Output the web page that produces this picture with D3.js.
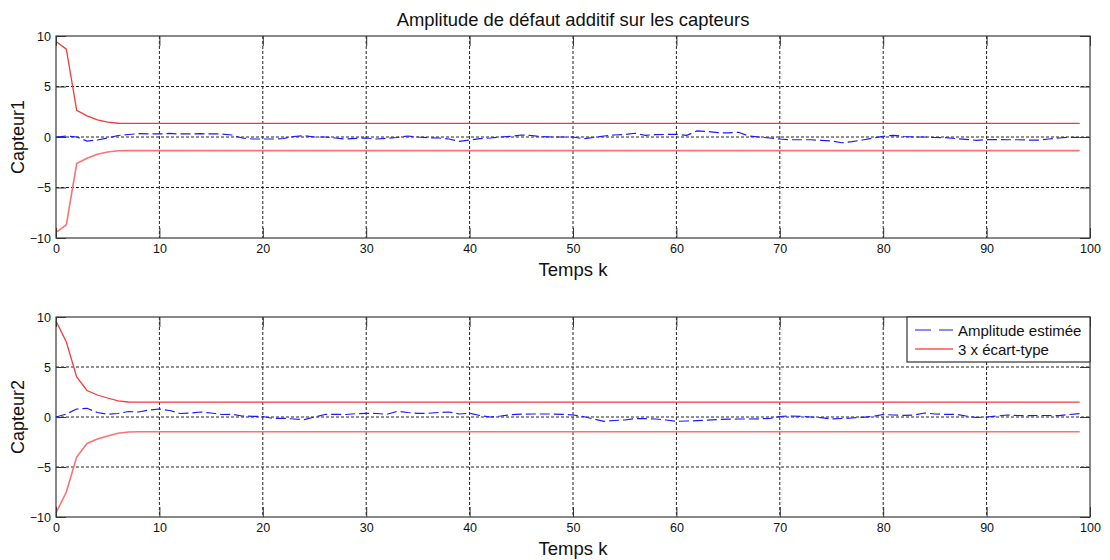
<!DOCTYPE html>
<html>
<head>
<meta charset="utf-8">
<script src="https://cdn.jsdelivr.net/npm/d3@7/dist/d3.min.js"></script>
<style>
    body { margin: 0; background: #fff; }
    text { font-family: "Liberation Sans", Arial, sans-serif; fill: #111; }
</style>
</head>
<body>
<div id="chart"></div>
<script>
// Tick labels
var xTicks = [0, 10, 20, 30, 40, 50, 60, 70, 80, 90, 100];
var yTicks = [-10, -5, 0, 5, 10];

// Estimated amplitude, sensor 1 (k = 0..99)
var amp1 = [0, 0.1, 0, -0.4, -0.3, -0.1, 0.15, 0.25, 0.33, 0.3,
    0.3, 0.35, 0.3, 0.3, 0.33, 0.3, 0.3, 0.2, -0.1, -0.2,
    -0.2, -0.2, -0.15, 0.05, 0.12, 0, 0, -0.1, -0.2, -0.13,
    -0.1, -0.2, -0.13, -0.05, 0.1, 0, -0.07, -0.1, -0.2, -0.43,
    -0.3, -0.17, -0.1, 0, 0.07, 0.2, 0.15, 0.03, 0, 0,
    0, -0.17, -0.05, 0.1, 0.2, 0.25, 0.37, 0.17, 0.23, 0.25,
    0.27, 0.17, 0.6, 0.55, 0.43, 0.4, 0.47, 0.1, 0, -0.1,
    -0.2, -0.27, -0.27, -0.27, -0.33, -0.4, -0.57, -0.45, -0.3, -0.1,
    0.07, 0.17, 0.05, 0, 0, -0.05, -0.07, -0.15, -0.23, -0.33,
    -0.25, -0.25, -0.27, -0.27, -0.3, -0.3, -0.2, -0.1, -0.03, -0.05];

// Estimated amplitude, sensor 2
var amp2 = [0, 0.3, 0.8, 0.87, 0.45, 0.27, 0.35, 0.55, 0.5, 0.7,
    0.8, 0.65, 0.35, 0.4, 0.5, 0.4, 0.25, 0.27, 0.1, 0.07,
    0.05, -0.15, -0.13, -0.2, -0.27, 0, 0.25, 0.27, 0.25, 0.33,
    0.37, 0.35, 0.27, 0.57, 0.45, 0.37, 0.37, 0.45, 0.5, 0.3,
    0.37, 0.15, 0, 0.1, 0.23, 0.28, 0.3, 0.3, 0.3, 0.27,
    0.2, 0.05, -0.2, -0.43, -0.35, -0.3, -0.17, -0.17, -0.2, -0.3,
    -0.43, -0.4, -0.37, -0.32, -0.25, -0.22, -0.2, -0.2, -0.18, -0.15,
    0.05, 0.1, 0.07, 0, -0.07, -0.2, -0.15, -0.1, -0.03, 0.05,
    0.25, 0.2, 0.17, 0.2, 0.4, 0.3, 0.27, 0.27, 0.1, -0.05,
    0, 0.1, 0.2, 0.15, 0.13, 0.15, 0.15, 0.13, 0.25, 0.33];

// 3 x standard deviation, sensor 1
var sig1 = [9.45, 8.7, 2.63, 2.1, 1.7, 1.48, 1.36, 1.35, 1.35, 1.35,
    1.35, 1.35, 1.35, 1.35, 1.35, 1.35, 1.35, 1.35, 1.35, 1.35,
    1.35, 1.35, 1.35, 1.35, 1.35, 1.35, 1.35, 1.35, 1.35, 1.35,
    1.35, 1.35, 1.35, 1.35, 1.35, 1.35, 1.35, 1.35, 1.35, 1.35,
    1.35, 1.35, 1.35, 1.35, 1.35, 1.35, 1.35, 1.35, 1.35, 1.35,
    1.35, 1.35, 1.35, 1.35, 1.35, 1.35, 1.35, 1.35, 1.35, 1.35,
    1.35, 1.35, 1.35, 1.35, 1.35, 1.35, 1.35, 1.35, 1.35, 1.35,
    1.35, 1.35, 1.35, 1.35, 1.35, 1.35, 1.35, 1.35, 1.35, 1.35,
    1.35, 1.35, 1.35, 1.35, 1.35, 1.35, 1.35, 1.35, 1.35, 1.35,
    1.35, 1.35, 1.35, 1.35, 1.35, 1.35, 1.35, 1.35, 1.35, 1.35];

// 3 x standard deviation, sensor 2
var sig2 = [9.6, 7.5, 4.0, 2.65, 2.2, 1.9, 1.62, 1.5, 1.48, 1.48,
    1.48, 1.48, 1.48, 1.48, 1.48, 1.48, 1.48, 1.48, 1.48, 1.48,
    1.48, 1.48, 1.48, 1.48, 1.48, 1.48, 1.48, 1.48, 1.48, 1.48,
    1.48, 1.48, 1.48, 1.48, 1.48, 1.48, 1.48, 1.48, 1.48, 1.48,
    1.48, 1.48, 1.48, 1.48, 1.48, 1.48, 1.48, 1.48, 1.48, 1.48,
    1.48, 1.48, 1.48, 1.48, 1.48, 1.48, 1.48, 1.48, 1.48, 1.48,
    1.48, 1.48, 1.48, 1.48, 1.48, 1.48, 1.48, 1.48, 1.48, 1.48,
    1.48, 1.48, 1.48, 1.48, 1.48, 1.48, 1.48, 1.48, 1.48, 1.48,
    1.48, 1.48, 1.48, 1.48, 1.48, 1.48, 1.48, 1.48, 1.48, 1.48,
    1.48, 1.48, 1.48, 1.48, 1.48, 1.48, 1.48, 1.48, 1.48, 1.48];

var w = 1110, h = 560;
var left = 56, right = 1090;

var svg = d3.select("#chart").append("svg")
    .attr("width", w)
    .attr("height", h);

var x = d3.scaleLinear().domain([0, 100]).range([left, right]);

function drawPanel(top, bottom, amp, sig, label, withTitle, withLegend) {
    var y = d3.scaleLinear().domain([-10, 10]).range([bottom, top]);
    var g = svg.append("g");

    // dotted grid
    g.selectAll(".vgrid").data(xTicks.slice(1, -1)).enter()
        .append("line")
        .attr("x1", d => x(d)).attr("x2", d => x(d))
        .attr("y1", top).attr("y2", bottom)
        .attr("stroke", "#222").attr("stroke-width", 1)
        .attr("stroke-dasharray", "3,2");
    g.selectAll(".hgrid").data(yTicks.slice(1, -1)).enter()
        .append("line")
        .attr("x1", left).attr("x2", right)
        .attr("y1", d => y(d)).attr("y2", d => y(d))
        .attr("stroke", "#222").attr("stroke-width", 1)
        .attr("stroke-dasharray", "3,2");

    var line = d3.line().x((d, i) => x(i)).y(d => y(d));

    // +/- 3 sigma envelope
    g.append("path").datum(sig)
        .attr("d", line)
        .attr("fill", "none").attr("stroke", "#f23a3a").attr("stroke-width", 1.3);
    g.append("path").datum(sig.map(v => -v))
        .attr("d", line)
        .attr("fill", "none").attr("stroke", "#fa7272").attr("stroke-width", 1.6);

    // estimated amplitude
    g.append("path").datum(amp)
        .attr("d", line)
        .attr("fill", "none").attr("stroke", "#1a1aff").attr("stroke-width", 1.2)
        .attr("stroke-dasharray", "10,4");

    // axes: ticks inside, on all four sides
    var tl = 10;
    g.append("g").attr("transform", `translate(0,${bottom})`)
        .call(d3.axisBottom(x).tickValues(xTicks).tickSizeInner(-tl).tickSizeOuter(0).tickPadding(6))
        .call(a => a.selectAll("text").style("font-size", "12.5px"));
    g.append("g").attr("transform", `translate(0,${top})`)
        .call(d3.axisTop(x).tickValues(xTicks).tickSizeInner(-tl).tickSizeOuter(0).tickFormat(""));
    g.append("g").attr("transform", `translate(${left},0)`)
        .call(d3.axisLeft(y).tickValues(yTicks).tickSizeInner(-tl).tickSizeOuter(0).tickPadding(5))
        .call(a => a.selectAll("text").style("font-size", "12.5px"));
    g.append("g").attr("transform", `translate(${right},0)`)
        .call(d3.axisRight(y).tickValues(yTicks).tickSizeInner(-tl).tickSizeOuter(0).tickFormat(""));
    g.selectAll(".domain").remove();
    g.selectAll(".tick line").attr("stroke", "#333");

    // frame
    g.append("rect")
        .attr("x", left).attr("y", top)
        .attr("width", right - left).attr("height", bottom - top)
        .attr("fill", "none").attr("stroke", "#3a3a3a").attr("stroke-width", 1.2);

    // labels
    g.append("text")
        .attr("x", (left + right) / 2).attr("y", bottom + 38)
        .attr("text-anchor", "middle")
        .style("font-size", "18.5px")
        .text("Temps k");
    g.append("text")
        .attr("transform", `translate(24,${(top + bottom) / 2}) rotate(-90)`)
        .attr("text-anchor", "middle")
        .style("font-size", "18px")
        .text(label);

    if (withTitle) {
        g.append("text")
            .attr("x", (left + right) / 2).attr("y", top - 10)
            .attr("text-anchor", "middle")
            .style("font-size", "18.4px")
            .text("Amplitude de défaut additif sur les capteurs");
    }

    if (withLegend) {
        var lx = 907, ly = top;
        var lg = g.append("g");
        lg.append("rect")
            .attr("x", lx).attr("y", ly)
            .attr("width", right - lx).attr("height", 45)
            .attr("fill", "#fff").attr("stroke", "#333").attr("stroke-width", 1.2);
        lg.append("line")
            .attr("x1", lx + 8).attr("x2", lx + 46)
            .attr("y1", ly + 13).attr("y2", ly + 13)
            .attr("stroke", "#1a1aff").attr("stroke-width", 1.2)
            .attr("stroke-dasharray", "16,8");
        lg.append("text")
            .attr("x", lx + 51).attr("y", ly + 18.5)
            .style("font-size", "15px")
            .text("Amplitude estimée");
        lg.append("line")
            .attr("x1", lx + 8).attr("x2", lx + 46)
            .attr("y1", ly + 32).attr("y2", ly + 32)
            .attr("stroke", "#f55").attr("stroke-width", 1.4);
        lg.append("text")
            .attr("x", lx + 51).attr("y", ly + 38)
            .style("font-size", "15px")
            .text("3 x écart-type");
    }
}

drawPanel(36, 238, amp1, sig1, "Capteur1", true, false);
drawPanel(317, 517, amp2, sig2, "Capteur2", false, true);
</script>
</body>
</html>
